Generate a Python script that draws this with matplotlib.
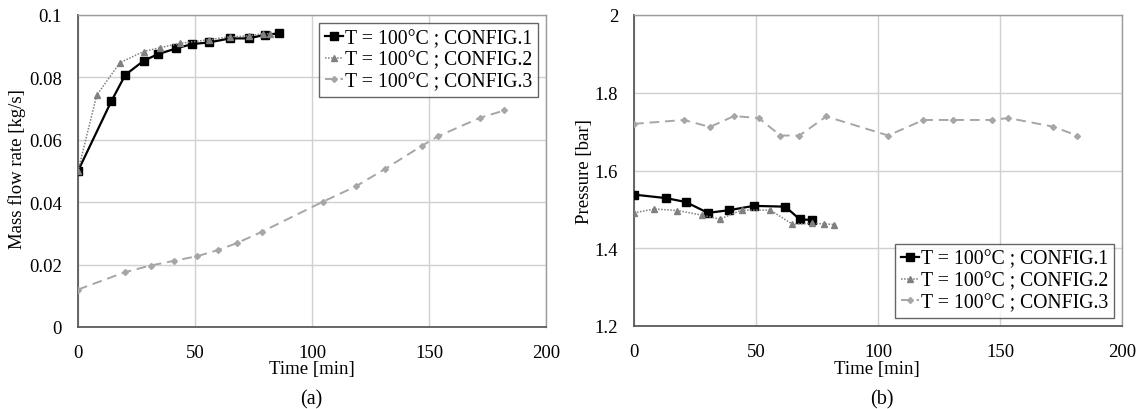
import matplotlib
matplotlib.use("Agg")
import matplotlib.pyplot as plt

plt.rcParams['font.family'] = ['Liberation Serif', 'DejaVu Serif']

labels = ["T = 100°C ; CONFIG.1", "T = 100°C ; CONFIG.2", "T = 100°C ; CONFIG.3"]

# (a) mass flow rate
mf1_t = [0, 14.2, 20.2, 28, 34, 42, 48.9, 56, 64.9, 73, 80, 86.1]
mf1_v = [0.050, 0.0723, 0.0808, 0.0853, 0.0874, 0.0893, 0.0907, 0.0912, 0.0925, 0.0925, 0.0937, 0.0941]
mf2_t = [0, 8, 17.9, 28, 35, 43.6, 56, 64.8, 73, 79, 82]
mf2_v = [0.050, 0.0743, 0.0847, 0.0883, 0.0895, 0.0909, 0.0921, 0.0930, 0.0933, 0.0940, 0.0940]
mf3_t = [0, 20.2, 31, 40.9, 51, 60, 67.9, 78.8, 104.5, 118.8, 131.1, 147, 153.8, 171.9, 182.2]
mf3_v = [0.0120, 0.0176, 0.0197, 0.0212, 0.0227, 0.0247, 0.0269, 0.0306, 0.0401, 0.0451, 0.0506, 0.0581, 0.0611, 0.0671, 0.0694]

# (b) pressure
p1_t = [0, 13.1, 21.2, 30.3, 39.1, 49, 62, 68, 73.1]
p1_v = [1.538, 1.529, 1.519, 1.491, 1.498, 1.509, 1.507, 1.474, 1.473]
p2_t = [0, 8.3, 17.8, 28, 35.2, 44.1, 55.9, 64.9, 73.1, 77.7, 82]
p2_v = [1.491, 1.501, 1.497, 1.485, 1.475, 1.498, 1.498, 1.462, 1.464, 1.463, 1.461]
p3_t = [0, 20.4, 31.1, 41, 51.1, 60, 67.8, 78.8, 104.2, 118.6, 130.9, 146.8, 153.4, 171.6, 181.6]
p3_v = [1.720, 1.730, 1.712, 1.740, 1.735, 1.690, 1.690, 1.739, 1.690, 1.730, 1.730, 1.730, 1.735, 1.713, 1.690]

x_ticks = [0, 50, 100, 150, 200]
mf_ticks = [0, 0.02, 0.04, 0.06, 0.08, 0.1]
mf_ticklabels = ["0", "0.02", "0.04", "0.06", "0.08", "0.1"]
p_ticks = [1.2, 1.4, 1.6, 1.8, 2.0]
p_ticklabels = ["1.2", "1.4", "1.6", "1.8", "2"]

fig = plt.figure(figsize=(11.44, 4.10), dpi=100)
ax1 = fig.add_axes([78/1144, 1-328/410, (546-78)/1144, (328-16)/410])
ax2 = fig.add_axes([634/1144, 1-327/410, (1122-634)/1144, (327-16)/410])

styles = [
    dict(color='black', ls='-', lw=1.6, marker='s', ms=5.5),
    dict(color='#808080', ls=(0, (1, 1)), lw=1.1, marker='^', ms=4),
    dict(color='#a6a6a6', ls=(0, (5, 3)), lw=1.4, marker='D', ms=3),
]

def style_ax(ax):
    ax.set_xlim(0, 200)
    ax.set_xticks(x_ticks)
    ax.grid(True, color='#d0d0d0', lw=1.0)
    ax.set_axisbelow(True)
    for s in ['left', 'bottom']:
        ax.spines[s].set_color('#5a5a5a')
        ax.spines[s].set_linewidth(1.3)
    for s in ['top', 'right']:
        ax.spines[s].set_color('#9a9a9a')
        ax.spines[s].set_linewidth(1.0)
    ax.tick_params(length=0, labelsize=13.5)
    ax.tick_params(axis='x', pad=12)
    ax.tick_params(axis='y', pad=11.5)

legend_kw = dict(fontsize=14.2, frameon=True, fancybox=False, edgecolor='#404040',
                 handlelength=0.9, handletextpad=0.1, borderpad=0.3,
                 labelspacing=0.14, borderaxespad=0.4)

for t, v, lab, st in zip([mf1_t, mf2_t, mf3_t], [mf1_v, mf2_v, mf3_v], labels, styles):
    ax1.plot(t, v, label=lab, zorder=3, **st)
ax1.set_ylim(0, 0.1)
ax1.set_yticks(mf_ticks)
ax1.set_yticklabels(mf_ticklabels)
style_ax(ax1)
leg = ax1.legend(loc='upper right', **legend_kw)
leg.get_frame().set_linewidth(1.0)

for t, v, lab, st in zip([p1_t, p2_t, p3_t], [p1_v, p2_v, p3_v], labels, styles):
    ax2.plot(t, v, label=lab, zorder=3, **st)
ax2.set_ylim(1.2, 2.0)
ax2.set_yticks(p_ticks)
ax2.set_yticklabels(p_ticklabels)
style_ax(ax2)
leg2 = ax2.legend(loc='lower right', **legend_kw)
leg2.get_frame().set_linewidth(1.0)

fig.text(312/1144, 1-370/410, "Time [min]", ha='center', va='center', fontsize=13.5)
fig.text(877/1144, 1-370/410, "Time [min]", ha='center', va='center', fontsize=13.5)
fig.text(311/1144, 1-400/410, "(a)", ha='center', va='center', fontsize=14.5)
fig.text(882/1144, 1-400/410, "(b)", ha='center', va='center', fontsize=14.5)
fig.text(17/1144, 1-169/410, "Mass flow rate [kg/s]", ha='center', va='center', rotation=90, fontsize=13.5)
fig.text(585/1144, 1-172/410, "Pressure [bar]", ha='center', va='center', rotation=90, fontsize=13.5)

fig.savefig("out.png", dpi=100)
